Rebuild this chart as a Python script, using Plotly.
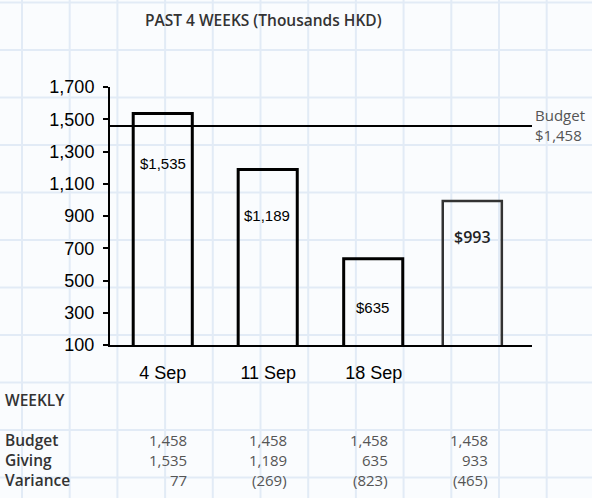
import plotly.graph_objects as go

# ---- data ----
weeks = ["4 Sep", "11 Sep", "18 Sep", "25 Sep"]
week_tick_labels = ["4 Sep", "11 Sep", "18 Sep", ""]
giving_bars = [1535, 1189, 635, 993]
bar_labels = ["$1,535", "$1,189", "$635", "$993"]
budget_value = 1458
y_ticks = [100, 300, 500, 700, 900, 1100, 1300, 1500, 1700]

table_rows = ["Budget", "Giving", "Variance"]
table_budget = ["1,458", "1,458", "1,458", "1,458"]
table_giving = ["1,535", "1,189", "635", "933"]
table_variance = ["77", "(269)", "(823)", "(465)"]

W, H = 592, 498
ML, MR, MT, MB = 110, 60, 87, 153
PW, PH = W - ML - MR, H - MT - MB


def px_x(px):
    return (px - ML) / PW


def px_y(py):
    return (H - MB - py) / PH


fig = go.Figure()

fig.add_trace(go.Bar(
    x=weeks, y=giving_bars,
    base=0,
    marker=dict(color="rgba(0,0,0,0)",
                line=dict(color=["#000", "#000", "#000", "#333"], width=[3, 3, 3, 2.5])),
    width=0.56,
    offset=[-0.28, -0.285, -0.285, -0.346],
    hoverinfo="skip",
))

shapes = []
# graph-paper background
GRID = "#e2ebf6"
for i in range(13):
    xp = 22 + 47.7 * i
    shapes.append(dict(type="line", xref="paper", yref="paper",
                       x0=px_x(xp), x1=px_x(xp), y0=px_y(-5), y1=px_y(H + 5),
                       line=dict(color=GRID, width=2), layer="below"))
for i in range(11):
    yp = 2.5 + 47.5 * i
    shapes.append(dict(type="line", xref="paper", yref="paper",
                       x0=px_x(-5), x1=px_x(W + 5), y0=px_y(yp), y1=px_y(yp),
                       line=dict(color=GRID, width=2), layer="below"))
# budget line
shapes.append(dict(type="line", xref="paper", yref="y", x0=0, x1=1,
                   y0=budget_value, y1=budget_value,
                   line=dict(color="#000", width=2)))

annotations = []
LBL = "Liberation Sans"
TXT = "Open Sans"
shifts = [-50, -46, -49, -36]
xshifts = [0, -1, -1, -7]
for i, (w, v, t) in enumerate(zip(weeks, giving_bars, bar_labels)):
    big = i == 3
    annotations.append(dict(x=w, y=v, xref="x", yref="y", text=t, showarrow=False,
                            yshift=shifts[i], xshift=xshifts[i], yanchor="middle",
                            font=dict(family=TXT if big else LBL, size=16 if big else 15,
                                      color="#222" if big else "#000",
                                      weight=600 if big else 400)))
annotations.append(dict(x=1, y=budget_value, xref="paper", yref="y",
                        text="Budget<br>$1,458", showarrow=False, xanchor="left",
                        xshift=1, yshift=1, yanchor="middle", align="left",
                        font=dict(family=TXT, size=15, color="#555")))
annotations.append(dict(x=px_x(263), y=px_y(20), xref="paper", yref="paper",
                        text="PAST 4 WEEKS (Thousands HKD)", showarrow=False,
                        xanchor="center", yanchor="middle",
                        font=dict(family=TXT, size=15.5, color="#333", weight=600)))
annotations.append(dict(x=px_x(3), y=px_y(400), xref="paper", yref="paper",
                        text="WEEKLY", showarrow=False, xanchor="left", yanchor="middle",
                        font=dict(family=TXT, size=15.5, color="#333", weight=600)))
row_y = [440, 460, 480]
col_x = [189, 289, 390, 490]
for r, (name, vals) in enumerate(zip(table_rows, [table_budget, table_giving, table_variance])):
    annotations.append(dict(x=px_x(3), y=px_y(row_y[r]), xref="paper", yref="paper",
                            text=name, showarrow=False, xanchor="left", yanchor="middle",
                            font=dict(family=TXT, size=15.5, color="#333", weight=600)))
    for c, v in enumerate(vals):
        annotations.append(dict(x=px_x(col_x[c]), y=px_y(row_y[r]), xref="paper", yref="paper",
                                text=v, showarrow=False, xanchor="right", yanchor="middle",
                                font=dict(family=TXT, size=15, color="#555", weight=400)))

fig.update_layout(
    width=W, height=H,
    margin=dict(l=ML, r=MR, t=MT, b=MB),
    paper_bgcolor="#fafcfe", plot_bgcolor="rgba(0,0,0,0)",
    showlegend=False,
    bargap=0.44,
    shapes=shapes, annotations=annotations,
    xaxis=dict(type="category", tickvals=weeks, ticktext=week_tick_labels,
               showline=True, linecolor="#000", linewidth=2, ticks="",
               showgrid=False, zeroline=False, ticklabelstandoff=10,
               tickfont=dict(family=LBL, size=18, color="#000"), fixedrange=True),
    yaxis=dict(range=[100, 1700], tickvals=y_ticks, tickformat=",d",
               showline=True, linecolor="#000", linewidth=2,
               ticks="outside", ticklen=5, tickwidth=2, tickcolor="#000",
               showgrid=False, zeroline=False, ticklabelstandoff=5,
               tickfont=dict(family=LBL, size=18, color="#000"), fixedrange=True),
)

fig.write_html("out.html", config={"displayModeBar": False},
               post_script="document.body.style.margin='0';document.body.style.overflow='hidden';")
